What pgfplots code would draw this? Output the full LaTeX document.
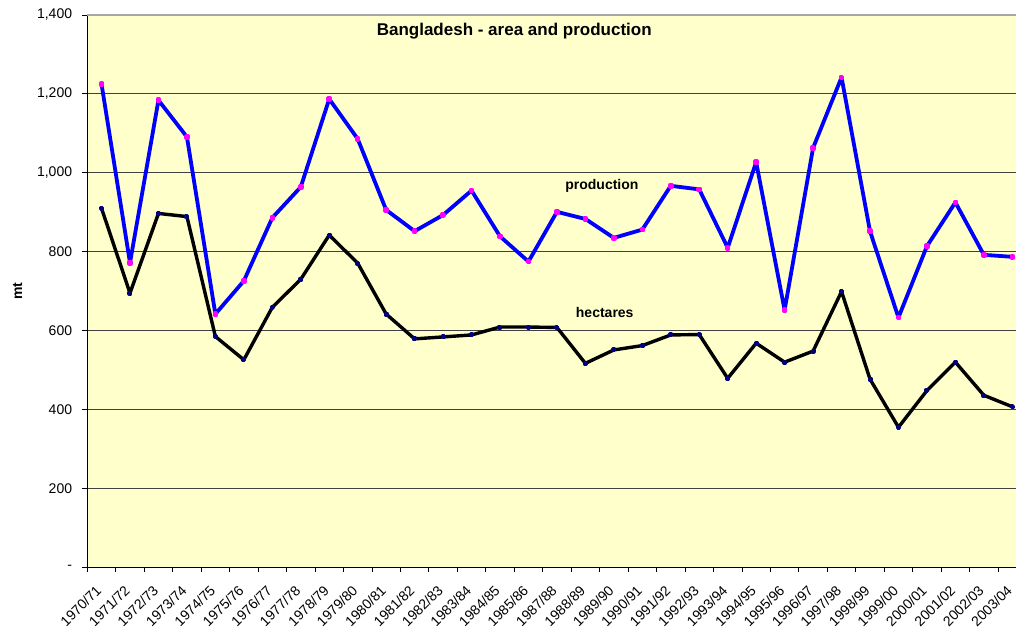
\documentclass[border=0pt]{standalone}
\usepackage{pgfplots}
\pgfplotsset{compat=1.18}
\usepackage{fontspec}
\setmainfont{Liberation Sans}

\definecolor{chartbg}{RGB}{255,255,204}
\definecolor{prodblue}{RGB}{0,0,255}
\definecolor{prodmark}{RGB}{255,0,255}
\definecolor{hamark}{RGB}{0,0,128}

\pgfplotstableread{
idx prod ha
0  1225 910
1  772  695
2  1184 897
3  1091 889
4  642  585
5  726  526
6  886  659
7  964  730
8  1187 842
9  1086 771
10 906  642
11 852  579
12 893  584
13 955  589
14 839  609
15 775  609
16 901  608
17 883  517
18 835  551
19 856  562
20 967  589
21 958  590
22 810  479
23 1027 568
24 652  520
25 1063 548
26 1242 699
27 852  477
28 633  355
29 814  448
30 925  520
31 792  436
32 787  407
}\datatable

\begin{document}
\begin{tikzpicture}
\begin{axis}[
    scale only axis,
    width=928.7pt,
    height=552.3pt,
    xmin=-0.5, xmax=32.13,
    ymin=0, ymax=1400,
    axis x line*=bottom,
    axis y line*=left,
    axis line style={-, black, line width=1pt},
    axis background/.style={fill=chartbg},
    tick align=outside,
    major tick length=5pt,
    minor tick length=5pt,
    xtick={0,...,32},
    xticklabels={1970/71,1971/72,1972/73,1973/74,1974/75,1975/76,1976/77,1977/78,1978/79,1979/80,1980/81,1981/82,1982/83,1983/84,1984/85,1985/86,1987/88,1988/89,1989/90,1990/91,1991/92,1992/93,1993/94,1994/95,1995/96,1996/97,1997/98,1998/99,1999/00,2000/01,2001/02,2002/03,2003/04},
    major x tick style={draw=none},
    minor xtick={-0.5,0.5,...,32.5},
    minor x tick style={draw=black, line width=0.8pt},
    ytick={0,200,...,1400},
    yticklabels={{-\hspace{16pt}},200,400,600,800,{1,000},{1,200},{1,400}},
    y tick style={draw=black, line width=0.8pt},
    ymajorgrids,
    grid style={black!75, line width=0.8pt},
    ticklabel style={font=\fontsize{14}{16}\selectfont},
    xticklabel style={xshift=-2pt, yshift=-15pt, rotate=45, anchor=east, inner sep=1pt},
    yticklabel style={anchor=east, inner sep=0pt, xshift=-10pt},
    ylabel={mt},
    every axis y label/.style={at={(axis description cs:-0.075,0.5)}, rotate=90, anchor=center, font=\bfseries\fontsize{14}{16}\selectfont},
    clip=false,
]
\addplot[prodblue, line width=3.8pt, line join=round, mark=square*, mark size=0.9pt, mark options={draw=prodmark, fill=prodmark}] table[x=idx, y=prod] {\datatable};
\addplot[black, line width=3.4pt, line join=round, mark=square*, mark size=0.8pt, mark options={draw=hamark, fill=hamark}] table[x=idx, y=ha] {\datatable};
\draw[gray!70, line width=1.2pt] (rel axis cs:0,1) -- (rel axis cs:1,1);
\node[font=\bfseries\fontsize{17}{19}\selectfont] at (axis cs:14.5,1359) {Bangladesh - area and production};
\node[font=\bfseries\fontsize{14}{16}\selectfont] at (axis cs:17.58,966) {production};
\node[font=\bfseries\fontsize{14}{16}\selectfont] at (axis cs:17.68,647) {hectares};
\coordinate (o) at (rel axis cs:0,0);
\end{axis}
\pgfresetboundingbox
\path ([shift={(-87.3pt,-64pt)}]o) rectangle ([shift={(928.7pt,567.3pt)}]o);
\end{tikzpicture}
\end{document}
